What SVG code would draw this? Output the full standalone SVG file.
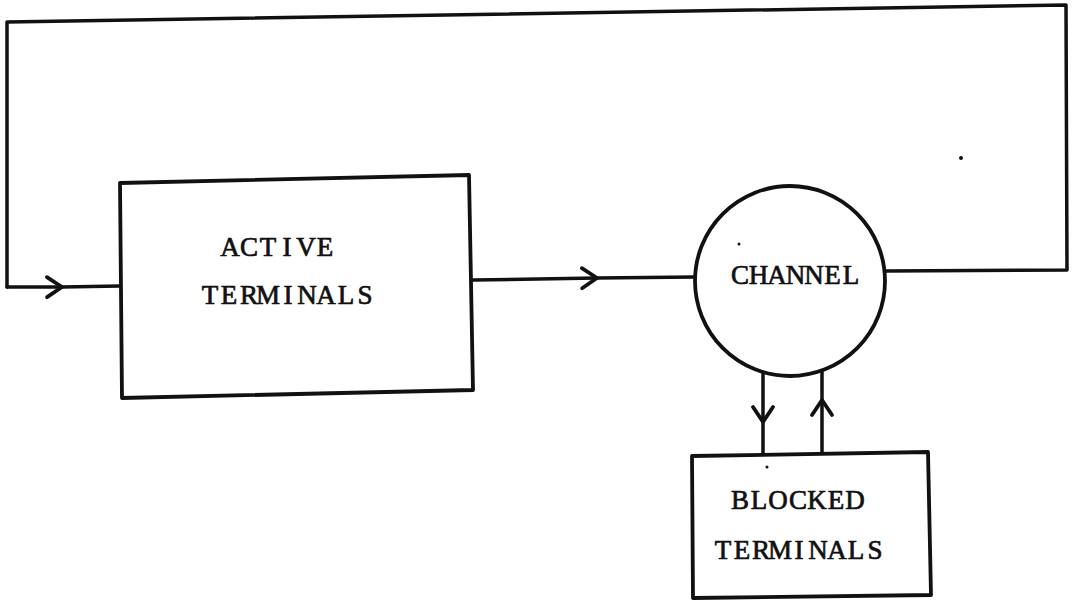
<svg xmlns="http://www.w3.org/2000/svg" width="1074" height="607" viewBox="0 0 1074 607">
<style>
.ln{fill:none;stroke:#111;stroke-width:3.5;stroke-linejoin:round;stroke-linecap:round}
.box{fill:#fff;stroke:#111;stroke-width:3.8;stroke-linejoin:round}
.lbl{font-family:"Liberation Serif","Times New Roman",serif;font-size:27px;fill:#111;stroke:#111;stroke-width:0.7;text-anchor:middle}
.dot{fill:#111}
</style>
<defs>
<marker id="chev" markerUnits="userSpaceOnUse" markerWidth="40" markerHeight="40" viewBox="-20 -20 40 40" refX="0" refY="0" orient="auto">
<path d="M-15,-10 L0,0 L-15,10" fill="none" stroke="#111" stroke-width="3.8" stroke-linecap="round" stroke-linejoin="round"/>
</marker>
</defs>
<rect width="1074" height="607" fill="#fff"/>
<g id="connectors">
<path class="ln" d="M885,271 L1067,270 L1066,5 L7,22 L7,287"/>
<path class="ln" d="M7,287 L62,287 L120,286" marker-mid="url(#chev)"/>
<path class="ln" d="M473,280 L597,278 L695,277" marker-mid="url(#chev)"/>
<path class="ln" d="M763,372 L763,422 L763,455" marker-mid="url(#chev)"/>
<path class="ln" d="M822,453 L822,400 L822,370" marker-mid="url(#chev)"/>
</g>
<g id="active">
<polygon class="box" points="120,183 469,175 473,390 122,398"/>
<text class="lbl" x="230 249 268 287 306 325" y="256">ACTIVE</text>
<text class="lbl" x="210 229 249 268 288 307 326 346 365" y="304">TERMINALS</text>
</g>
<g id="channel">
<circle class="box" cx="790" cy="281" r="95"/>
<text class="lbl" x="740 758.5 777 795.5 814 832.5 851" y="284">CHANNEL</text>
</g>
<g id="blocked">
<polygon class="box" points="692,456 928,452 931,595 693,598"/>
<text class="lbl" x="740 759 778 798 817 836 855" y="509">BLOCKED</text>
<text class="lbl" x="723 742 761 780 799 818 837 856 875" y="559">TERMINALS</text>
</g>
<circle class="dot" cx="961" cy="158" r="2"/>
<circle class="dot" cx="739" cy="244" r="1.5"/>
<circle class="dot" cx="767" cy="467" r="1.5"/>
</svg>
